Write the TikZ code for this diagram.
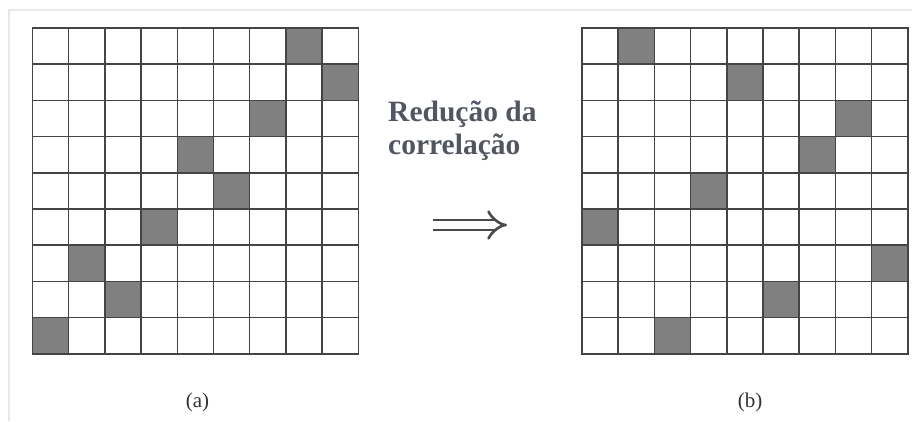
\documentclass[tikz,border=0pt]{standalone}
\usepackage{fontspec}
\setmainfont{Liberation Serif}
\usetikzlibrary{arrows.meta}
\definecolor{cellfill}{HTML}{808080}
\definecolor{gridline}{HTML}{444444}
\definecolor{frameline}{HTML}{E8E8E8}
\definecolor{captext}{HTML}{525663}
\definecolor{arrowgray}{HTML}{4A4A4A}
\tikzset{
  gridrule/.style={gridline, line width=1.5pt, line cap=rect},
  shaded/.style={fill=cellfill},
  titletext/.style={anchor=base west, text=captext, inner sep=0pt,
    font=\bfseries\fontsize{29.5}{33}\selectfont},
  sublabel/.style={text=black!80, font=\fontsize{21}{24}\selectfont},
  implies/.style={arrowgray, line width=2.6pt, double distance=7.5pt, -{Implies}}
}
\begin{document}
\begin{tikzpicture}[x=1pt,y=-1pt]
\useasboundingbox (0,0) rectangle (912,421);
\fill[white] (0,0) rectangle (912,421);
% light frame at top and left
\draw[frameline, line width=2pt] (8.5,421) -- (8.5,10) -- (912,10);

\def\cs{36.2}
% (a) correlated placement: cells near the diagonal
\begin{scope}[shift={(32.5,28)}]
  \foreach \r/\c in {0/7,1/8,2/6,3/4,4/5,5/3,6/1,7/2,8/0}
    \fill[shaded] (\c*\cs,\r*\cs) rectangle ++(\cs,\cs);
  \foreach \i in {0,...,9} {
    \draw[gridrule] (\i*\cs,0) -- (\i*\cs,9*\cs);
    \draw[gridrule] (0,\i*\cs) -- (9*\cs,\i*\cs);
  }
\end{scope}

% (b) decorrelated placement
\begin{scope}[shift={(582,28)}]
  \foreach \r/\c in {0/1,1/4,2/7,3/6,4/3,5/0,6/8,7/5,8/2}
    \fill[shaded] (\c*\cs,\r*\cs) rectangle ++(\cs,\cs);
  \foreach \i in {0,...,9} {
    \draw[gridrule] (\i*\cs,0) -- (\i*\cs,9*\cs);
    \draw[gridrule] (0,\i*\cs) -- (9*\cs,\i*\cs);
  }
\end{scope}

% caption between the matrices
\node[titletext] (titleA) at (388,121) {Redução da};
\node[titletext] (titleB) at (388,154) {correlação};

% double arrow
\coordinate (arrS) at (433,225);
\coordinate (arrE) at (507,225);
\draw[implies] (arrS) -- (arrE);

% sub-figure labels
\node[sublabel] (labA) at (197.5,402) {(a)};
\node[sublabel] (labB) at (750,402) {(b)};
\end{tikzpicture}
\end{document}
